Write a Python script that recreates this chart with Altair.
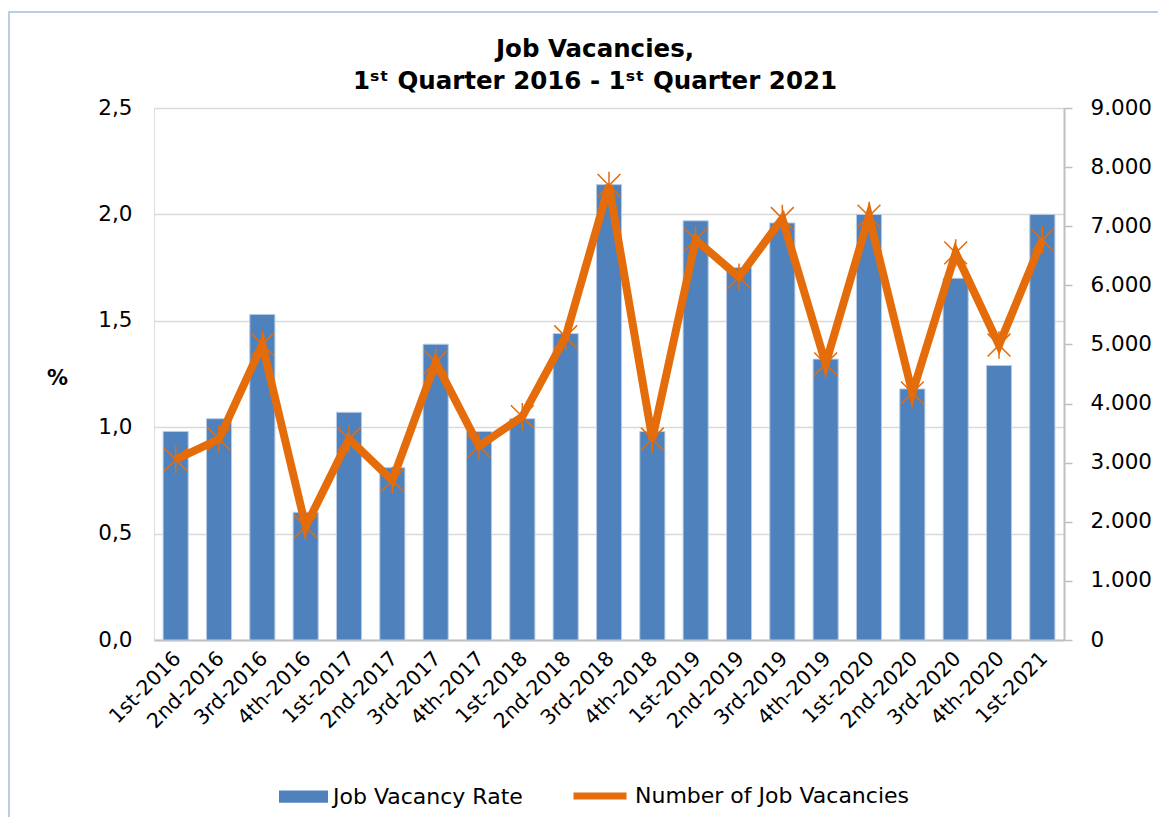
import altair as alt
import pandas as pd

quarters = ["1st-2016", "2nd-2016", "3rd-2016", "4th-2016",
            "1st-2017", "2nd-2017", "3rd-2017", "4th-2017",
            "1st-2018", "2nd-2018", "3rd-2018", "4th-2018",
            "1st-2019", "2nd-2019", "3rd-2019", "4th-2019",
            "1st-2020", "2nd-2020", "3rd-2020", "4th-2020",
            "1st-2021"]
vacancy_rate = [0.98, 1.04, 1.53, 0.60,
                1.07, 0.81, 1.39, 0.98,
                1.04, 1.44, 2.14, 0.98,
                1.97, 1.75, 1.96, 1.32,
                2.00, 1.18, 1.70, 1.29,
                2.00]
vacancies = [3050, 3400, 5000, 1920,
             3400, 2700, 4700, 3280,
             3780, 5130, 7690, 3400,
             6770, 6140, 7130, 4670,
             7170, 4180, 6550, 4990,
             6770]
rate_ticks = [0, 0.5, 1.0, 1.5, 2.0, 2.5]
count_ticks = [0, 1000, 2000, 3000, 4000, 5000, 6000, 7000, 8000, 9000]

df = pd.DataFrame({"quarter": quarters, "rate": vacancy_rate, "vacancies": vacancies})

FONT = "DejaVu Sans"
BLUE = "#4F81BD"
ORANGE = "#E46C0A"
GREY = "#bfbfbf"

x_enc = alt.X(
    "quarter:N", sort=quarters,
    scale=alt.Scale(paddingInner=0.42, paddingOuter=0.21),
    axis=alt.Axis(title=None, labelAngle=-45, labelFontSize=20.5, labelFont=FONT,
                  labelColor="black", labelPadding=8, labelOffset=-5, ticks=False,
                  domainColor=GREY, domainWidth=2),
)

base = alt.Chart(df)

bars = base.transform_calculate(series="'Job Vacancy Rate'").mark_bar(
    stroke="#b9cde5", strokeWidth=1
).encode(
    x=x_enc,
    y=alt.Y("rate:Q", scale=alt.Scale(domain=[0, 2.5]),
            axis=alt.Axis(values=rate_ticks, title="%", titleAngle=0,
                          titleFont=FONT, titleFontSize=21, titleFontWeight="bold",
                          titleColor="black", titleX=-97, titleY=270,
                          titleAlign="center", titleBaseline="middle",
                          labelExpr="replace(format(datum.value, '.1f'), '.', ',')",
                          labelFont=FONT, labelFontSize=21.5, labelColor="black",
                          labelPadding=22, ticks=False, domain=False,
                          grid=True, gridColor="#d9d9d9", gridWidth=1.5)),
    color=alt.Color("series:N", scale=alt.Scale(range=[BLUE]),
                    legend=alt.Legend(title=None, orient="none", legendX=125, legendY=664,
                                      symbolType="M-1,-0.25H1V0.25H-1Z", symbolSize=2401,
                                      symbolStrokeWidth=0, symbolOpacity=1,
                                      labelFont=FONT, labelFontSize=22, labelColor="black",
                                      labelLimit=400, padding=0, labelOffset=5)),
)

y_right = alt.Y("vacancies:Q", scale=alt.Scale(domain=[0, 9000]),
                axis=alt.Axis(values=count_ticks, orient="right", title=None,
                              labelExpr="replace(format(datum.value, ','), ',', '.')",
                              labelFont=FONT, labelFontSize=21.5, labelColor="black",
                              labelPadding=18, tickSize=8, tickColor=GREY, tickWidth=1.5,
                              domainColor=GREY, domainWidth=2, grid=False))

line = base.transform_calculate(series2="'Number of Job Vacancies'").mark_line(
    strokeWidth=8, strokeJoin="miter", strokeCap="butt"
).encode(
    x=x_enc,
    y=y_right,
    stroke=alt.Stroke("series2:N", scale=alt.Scale(range=[ORANGE]),
                      legend=alt.Legend(title=None, orient="none", legendX=416, legendY=658,
                                        symbolType="stroke", symbolSize=2809,
                                        symbolStrokeWidth=7, symbolOpacity=1,
                                        labelFont=FONT, labelFontSize=22, labelColor="black",
                                        labelLimit=400, padding=0, labelOffset=5)),
)

points = base.mark_point(
    shape="M-1,-1L1,1M1,-1L-1,1M0,-1.2L0,1.2", filled=False,
    color=ORANGE, strokeWidth=1.5, size=520, opacity=1
).encode(x=x_enc, y=y_right)

frame = alt.Chart(pd.DataFrame({"f": [0]})).mark_rect(
    fill=None, stroke="#b9cde5", strokeWidth=2
).encode(x=alt.value(-145), x2=alt.value(1010), y=alt.value(-96), y2=alt.value(760))

chart = alt.layer(
    frame, bars, alt.layer(line, points)
).resolve_scale(
    y="independent"
).properties(
    width=910, height=532,
    padding={"left": 146, "top": 100, "right": 94, "bottom": 177},
    autosize=alt.AutoSizeParams(type="none"),
    title=alt.TitleParams(
        text=["Job Vacancies,", "1ˢᵗ Quarter 2016 - 1ˢᵗ Quarter 2021"],
        font=FONT, fontSize=24.5, fontWeight="bold", color="black",
        anchor="middle", frame="group", dx=-14, dy=99, offset=16, lineHeight=32,
    ),
).configure_view(stroke=None).configure(background="white")

chart.save("out.html", embed_options={"renderer": "svg", "actions": False})
